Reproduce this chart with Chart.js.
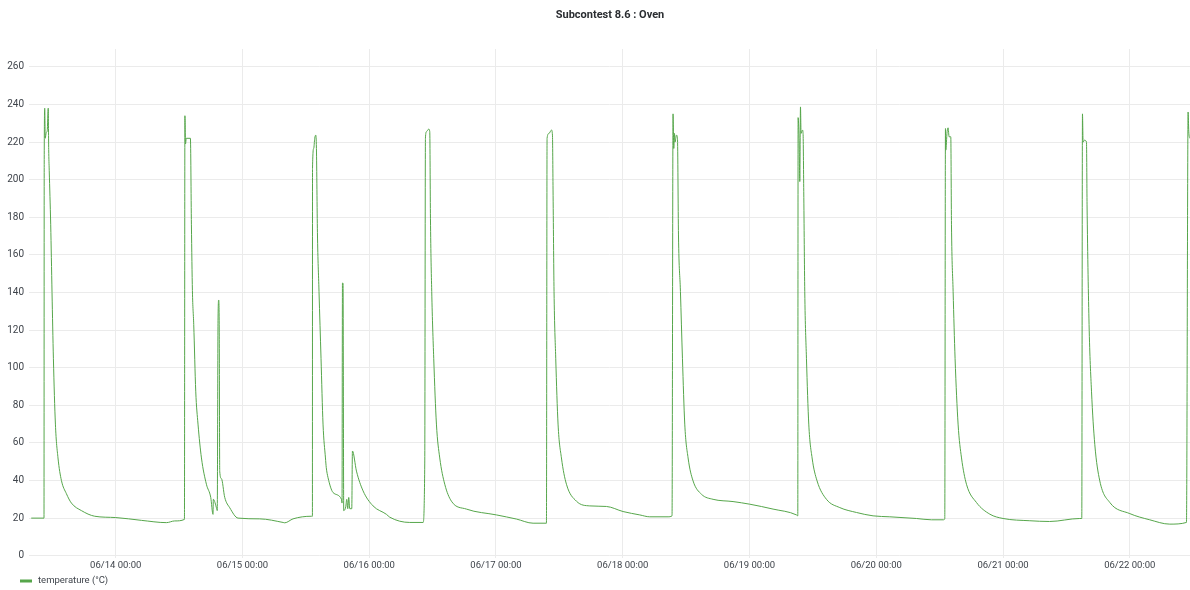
<!DOCTYPE html>
<html>
<head>
<meta charset="utf-8">
<title>Subcontest 8.6 : Oven</title>
<script src="https://cdn.jsdelivr.net/npm/chart.js@4/dist/chart.umd.min.js"></script>
<style>
  body { margin: 0; background: #fff; }
  #wrap { width: 1190px; height: 590px; }
</style>
</head>
<body>
<div id="wrap"><canvas id="oven-chart" width="1190" height="590"></canvas></div>
<script>
// time in hours since 06/13 00:00, temperature in °C
const hours = [
    8.0, 10.42, 10.46, 10.56, 10.65, 10.84, 11.03, 11.22, 11.31, 11.41, 11.69, 11.94, 12.20, 12.58, 13.07, 13.72, 14.66, 15.61, 17.50, 20.02, 24.0, 28.87, 33.6, 35.17, 37.01,
    37.10, 37.22, 37.35, 38.14, 38.33, 38.52, 38.77, 39.15, 39.58, 40.23, 41.17, 41.99, 42.42, 42.48, 43.12, 43.22, 43.37, 43.50, 43.60, 43.69, 44.01, 44.64, 45.59, 47.16, 51.27, 55.68, 56.0, 57.57, 61.06,
    61.24, 61.26, 61.49, 61.68, 61.87, 62.0, 62.19, 62.49, 62.87, 63.25, 63.71, 63.86, 64.2, 65.15, 66.74, 66.85, 66.93, 67.04, 67.17, 67.55, 67.74, 67.93, 68.12, 68.31, 68.69, 68.82, 69.58, 70.83, 72.72, 75.26, 75.88, 79.67, 82.19, 82.51,
    82.64, 82.83, 83.26, 83.46, 83.59, 83.83, 84.21, 84.72, 85.35, 86.3, 87.56, 90.4, 96.08, 99.87, 103.02, 105.55,
    105.67, 106.04, 106.5, 106.69, 106.8, 106.99, 107.31, 107.75, 108.39, 109.34, 111.23, 113.75, 116.91, 120.06, 123.22, 125.11, 128.58, 129.33,
    129.52, 129.66, 129.79, 129.9, 130.17, 130.36, 130.55, 130.92, 131.3, 131.74, 132.37, 133.31, 134.9, 137.1, 140.88, 144.05, 148.45, 152.89, 153.14,
    153.2, 153.38, 153.52, 153.65, 153.76, 154.03, 154.14, 154.27, 154.46, 154.78, 155.22, 155.85, 156.79, 158.57, 161.09, 164.25, 167.4, 170.56, 175.61, 178.45, 180.65, 180.97,
    181.1, 181.16, 181.41, 181.6, 181.79, 182.11, 182.24, 182.55, 182.92, 183.49, 184.14, 185.08, 186.97, 189.5, 192.01, 197.07, 200.82, 206.53, 206.91,
    207.04, 207.16, 207.42, 207.8, 207.91, 208.29, 208.75, 209.37, 210.32, 212.22, 216.0, 219.78, 223.57, 226.73, 227.04, 227.17, 227.36
];
const temperature = [
    20, 20, 208, 238, 222, 225, 226, 238, 216, 205, 176, 140, 105, 70, 52, 40, 33, 28, 24, 21, 20.3, 18.8, 17.6, 18.5, 19.3,
    234, 219, 222, 222, 176, 141, 123, 87.5, 70, 52, 38, 31, 22, 30, 25, 24, 125, 136, 120, 45, 41, 31, 25.5, 20, 19.6, 17.7, 17.5, 19.6, 21,
    21, 206, 216.6, 222, 223.7, 216.6, 172, 140.6, 105, 70, 52, 47, 41.5, 33.6, 30, 28, 145, 145, 24, 26, 30, 25, 31, 25, 25, 55.7, 45, 34.5, 26.5, 22, 20.5, 17.7, 17.7, 48.8,
    222, 225.5, 226.9, 225.5, 179.5, 140.6, 105, 70, 52, 38, 29, 24.8, 21.7, 19.5, 17.3, 17.3,
    222, 224.6, 226.4, 223.7, 195, 140.6, 105, 70, 52, 38, 29, 26.5, 26.2, 23.5, 21.7, 20.7, 20.7, 21.2,
    235, 216.6, 224.6, 220, 223.7, 222, 170.6, 140.6, 105, 70, 52, 39.8, 32.7, 30, 28.8, 27.4, 24.8, 21.7, 21.2,
    233, 222, 199, 238.7, 224.6, 226.4, 224.6, 193.6, 140.6, 105, 70, 52, 39.8, 30, 25.6, 23, 21.2, 20.7, 19.8, 19.1, 19.1, 19.5,
    227.2, 215.7, 225.5, 227.6, 222.8, 222.8, 176, 140.6, 105, 70, 52, 38, 28.3, 22.1, 19.8, 18.6, 18.2, 19.8, 19.8,
    235, 220, 221, 220, 186.6, 123, 87.5, 59.3, 39.8, 28.3, 22.4, 19.1, 16.8, 17.7, 236, 225.5, 222
];

const dayTicks = [24, 48, 72, 96, 120, 144, 168, 192, 216];
const dayLabels = ['06/14 00:00', '06/15 00:00', '06/16 00:00', '06/17 00:00', '06/18 00:00',
    '06/19 00:00', '06/20 00:00', '06/21 00:00', '06/22 00:00'];
const tempTicks = [0, 20, 40, 60, 80, 100, 120, 140, 160, 180, 200, 220, 240, 260];
const chartTitle = 'Subcontest 8.6 : Oven';
const seriesName = 'temperature (°C)';

const points = hours.map(function(h, i) {
    return { x: h, y: temperature[i] };
});

const lineColor = '#56a64b';
const gridColor = '#ebebeb';
const textColor = '#3f444b';

// panel title and the grafana style legend in the bottom-left corner
const panelText = {
    id: 'panelText',
    afterDraw: function(chart) {
        const c = chart.ctx;
        c.save();
        c.textBaseline = 'middle';
        c.fillStyle = '#2a2d31';
        c.font = 'bold 11px Roboto';
        c.textAlign = 'center';
        c.fillText(chartTitle, 610, 15);

        const y = chart.height - 9;
        c.fillStyle = lineColor;
        c.fillRect(20, y - 1.5, 12, 3);
        c.fillStyle = textColor;
        c.font = '9.5px Roboto';
        c.textAlign = 'left';
        c.fillText(seriesName, 38, y);
        c.restore();
    }
};

const ctx = document.getElementById('oven-chart').getContext('2d');

new Chart(ctx, {
    type: 'line',
    data: {
        datasets: [{
            label: seriesName,
            data: points,
            borderColor: lineColor,
            backgroundColor: lineColor,
            borderWidth: 1,
            pointRadius: 0,
            cubicInterpolationMode: 'monotone',
            fill: false
        }]
    },
    options: {
        responsive: false,
        animation: false,
        layout: { padding: { left: 0, right: 0, top: 49, bottom: 17 } },
        plugins: {
            title: { display: false },
            legend: { display: false },
            tooltip: { enabled: false }
        },
        scales: {
            x: {
                type: 'linear',
                min: 7.58,
                max: 227.4,
                afterBuildTicks: function(scale) {
                    scale.ticks = dayTicks.map(function(v) { return { value: v }; });
                },
                ticks: {
                    color: textColor,
                    font: { family: 'Roboto', size: 9.5 },
                    padding: 2,
                    maxRotation: 0,
                    autoSkip: false,
                    callback: function(value) {
                        const i = dayTicks.indexOf(value);
                        return i >= 0 ? dayLabels[i] : '';
                    }
                },
                grid: { color: gridColor, drawTicks: false },
                border: { display: false }
            },
            y: {
                min: -1,
                max: 269.5,
                afterBuildTicks: function(scale) {
                    scale.ticks = tempTicks.map(function(v) { return { value: v }; });
                },
                afterFit: function(scale) {
                    scale.width = 29;
                },
                ticks: {
                    color: textColor,
                    font: { family: 'Roboto', size: 10 },
                    padding: 5
                },
                grid: { color: gridColor, drawTicks: false },
                border: { display: false }
            }
        }
    },
    plugins: [panelText]
});
</script>
</body>
</html>
